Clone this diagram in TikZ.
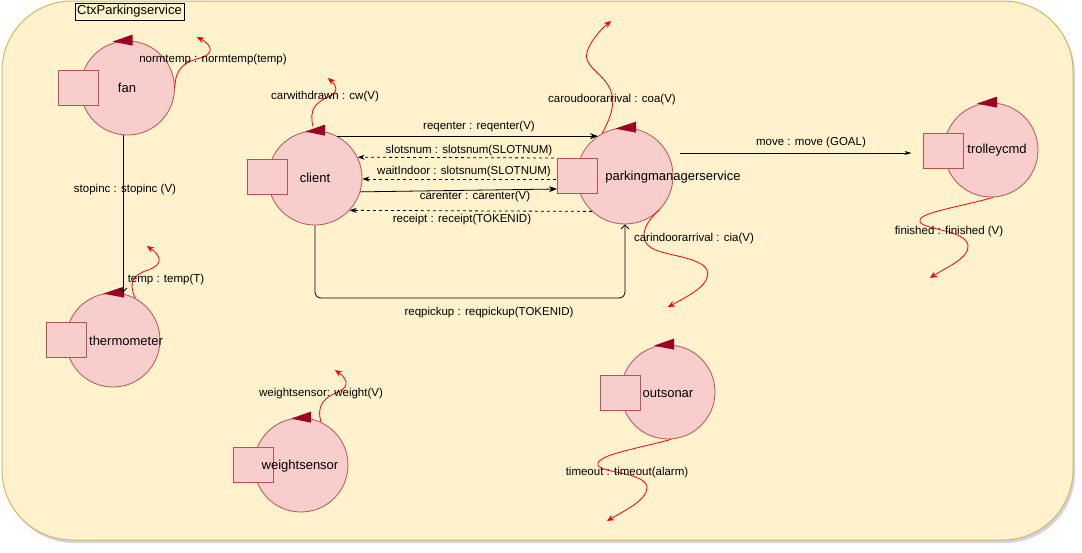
\documentclass[tikz,border=0pt]{standalone}
\usepackage{fontspec}
\setmainfont{Liberation Sans}
\usetikzlibrary{arrows.meta,shadows,calc}

\definecolor{bgfill}{HTML}{FFF2CC}
\definecolor{bgline}{HTML}{D6B656}
\definecolor{actfill}{HTML}{F8CECC}
\definecolor{actline}{HTML}{B85450}
\definecolor{flagred}{HTML}{9E0024}
\definecolor{loopred}{HTML}{FF0000}

% small flag on top of an actor circle
\newcommand{\actorflag}[3]{%
  \fill[flagred] ($(#1.north)+(#2,1)$) -- ($(#1.north)+(#3,-6)$) -- ($(#1.north)+(#3,5)$) -- cycle;}

\begin{document}
\begin{tikzpicture}[x=1pt,y=-1pt,
  actor/.style={circle,draw=actline,fill=actfill,minimum size=94pt,inner sep=0pt,line width=0.8pt},
  port/.style={rectangle,draw=actline,fill=actfill,minimum width=40pt,minimum height=35pt,inner sep=0pt,line width=1pt},
  aname/.style={font=\fontsize{13}{15}\selectfont,inner sep=0pt},
  lbl/.style={font=\fontsize{11.5}{13}\selectfont,inner sep=0pt},
  msg/.style={black,line width=0.8pt,-{Stealth[length=8pt,width=6pt]}},
  reply/.style={black,line width=0.8pt,dashed,dash pattern=on 3pt off 3pt,-{Stealth[length=7pt,width=5pt]}},
  openmsg/.style={black,line width=0.8pt,-{Straight Barb[length=4pt,width=8pt]}},
  emit/.style={loopred,line width=0.8pt,-{Stealth[length=7pt,width=6pt]}}]

\useasboundingbox (0,0) rectangle (1082,552);

% context area
\node[draw=bgline,fill=bgfill,line width=1pt,rounded corners=70pt,
      minimum width=1071pt,minimum height=539pt,inner sep=0pt,
      drop shadow={shadow xshift=2pt,shadow yshift=-3pt,opacity=0.25,fill=blue!40!gray}]
      (ctx) at (537.5,270.5) {};
\node[draw=black,fill=bgfill,line width=0.8pt,minimum width=109pt,minimum height=17pt,
      inner sep=0pt,font=\fontsize{13}{15}\selectfont] (title) at (129.5,11.5) {CtxParkingservice};

% actors
\node[actor] (fan) at (127.5,88) {};
\node[port] (fanq) at (78.5,87.5) {};
\node[aname] (fant) at (127,88) {fan};
\actorflag{fan}{-15}{5}

\node[actor] (client) at (315,178) {};
\node[port] (clientq) at (267.5,176.5) {};
\node[aname] (clientt) at (315,178) {client};
\actorflag{client}{-10}{10}

\node[actor,minimum size=96pt] (pms) at (625,176) {};
\node[port] (pmsq) at (577.5,176) {};
\node[aname] (pmst) at (673,177) {parkingmanagerservice};
\actorflag{pms}{-10}{11}

\node[actor] (trolley) at (991,150) {};
\node[port] (trolleyq) at (943,150.5) {};
\node[aname] (trolleyt) at (997,150) {trolleycmd};
\actorflag{trolley}{-14}{6}

\node[actor] (therm) at (113,340) {};
\node[port] (thermq) at (66,340) {};
\node[aname] (thermt) at (126,341) {thermometer};
\actorflag{therm}{-10}{11}

\node[actor] (weight) at (301,465) {};
\node[port] (weightq) at (253,464.5) {};
\node[aname] (weightt) at (300,466) {weightsensor};
\actorflag{weight}{-10}{10}

\node[actor] (sonar) at (668,392) {};
\node[port] (sonarq) at (620,392.5) {};
\node[aname] (sonart) at (668,393) {outsonar};
\actorflag{sonar}{-14}{6}

% messages between actors
\draw[openmsg] ([xshift=-4.5pt]fan.south) -- ([xshift=-4.5pt]fan.south |- therm.north);
\node[lbl] at (125,190) {stopinc : stopinc (V)};

\draw[msg] (client.62) -- (client.62 -| pms.124);
\node[lbl] at (479,127) {reqenter : reqenter(V)};

\draw[reply] ([xshift=-3pt]pmsq.north west) -- (client.26);
\node[lbl] at (469,151) {slotsnum : slotsnum(SLOTNUM)};

\draw[reply] ([xshift=-1pt,yshift=-3pt]pmsq.west) -- ([yshift=-1pt]client.east);
\node[lbl] at (464,172) {waitIndoor : slotsnum(SLOTNUM)};

\draw[msg] (client.-17) -- ([yshift=-13pt]pmsq.west);
\node[lbl] at (475,197) {carenter : carenter(V)};

\draw[reply] (pms.227) -- (client.-43);
\node[lbl] at (462,220) {receipt : receipt(TOKENID)};

\draw[openmsg,rounded corners=6pt] (client.south) -- (client.south |- 0,298)
      -- (pms.south |- 0,298) -- (pms.south);
\node[lbl] at (489,313) {reqpickup : reqpickup(TOKENID)};

\coordinate (moveStart) at (680,153);
\draw[black,line width=0.8pt,-{Stealth[length=7pt,width=4pt]}] (moveStart) -- ([xshift=-11pt]moveStart -| trolleyq.west);
\node[lbl] at (811,143) {move : move (GOAL)};

% emitted events
\coordinate (fanOut) at (197,37);
\draw[emit] (fan.east) .. controls (175,68) and (185,62) .. (200,58)
      .. controls (215,54) and (212,45) .. (fanOut);
\node[lbl] at (213,60) {normtemp : normtemp(temp)};

\coordinate (clientOut) at (328,78);
\draw[emit] ($(client.north)+(-2,-4)$) .. controls (309,110) and (315,103) .. (328,97)
      .. controls (340,92) and (336,85) .. (clientOut);
\node[lbl] at (325,97) {carwithdrawn : cw(V)};

\coordinate (coaOut) at (611,21);
\draw[emit] (pms.118) .. controls (612,115) and (617,100) .. (608,85)
      .. controls (600,72) and (583,65) .. (587,52)
      .. controls (590,42) and (600,30) .. (coaOut);
\node[lbl] at (612,100) {caroudoorarrival : coa(V)};

\coordinate (ciaOut) at (668,307);
\draw[emit] (pms.-44) .. controls (645,222) and (638,238) .. (650,247)
      .. controls (662,256) and (700,256) .. (707,270)
      .. controls (712,284) and (690,295) .. (ciaOut);
\node[lbl] at (694,239) {carindoorarrival : cia(V)};

\coordinate (finOut) at (930,278);
\draw[emit] ([xshift=2pt]trolley.south) .. controls (960,207) and (915,213) .. (920,222)
      .. controls (925,230) and (965,230) .. (968,245)
      .. controls (970,258) and (945,268) .. (finOut);
\node[lbl] at (949,232) {finished : finished (V)};

\coordinate (tempOut) at (147,246);
\draw[emit] (therm.62) .. controls (128,282) and (133,275) .. (148,270)
      .. controls (165,264) and (160,255) .. (tempOut);
\node[lbl] at (166,280) {temp : temp(T)};

\coordinate (weightOut) at (335,370);
\draw[emit] (weight.65) .. controls (316,405) and (325,397) .. (338,392)
      .. controls (352,386) and (345,377) .. (weightOut);
\node[lbl] at (321,394) {weightsensor: weight(V)};

\coordinate (sonarOut) at (607,521);
\draw[emit] ([xshift=3pt]sonar.south) .. controls (640,448) and (595,455) .. (598,465)
      .. controls (600,473) and (645,472) .. (647,487)
      .. controls (648,500) and (622,512) .. (sonarOut);
\node[lbl] at (627,473) {timeout : timeout(alarm)};

\end{tikzpicture}
\end{document}
